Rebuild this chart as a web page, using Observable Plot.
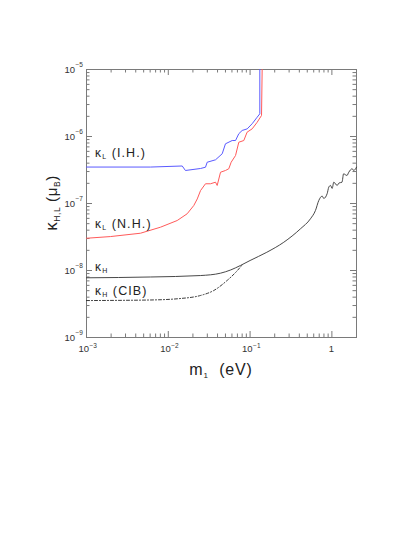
<!DOCTYPE html>
<html><head><meta charset="utf-8">
<script src="https://cdn.jsdelivr.net/npm/d3@7"></script>
<script src="https://cdn.jsdelivr.net/npm/@observablehq/plot@0.6"></script>
<style>html,body{margin:0;padding:0;background:#fff;} svg{display:block}</style>
</head><body><div id="chart"></div>
<script>
// ---- data ----
const ihM = [1e-3, 6.05e-3, 0.0148, 0.0162, 0.0248, 0.0285, 0.0299, 0.0378, 0.0456, 0.0500, 0.0604, 0.0664, 0.0728, 0.080, 0.0922, 0.106, 0.122, 0.1315, 0.1315];
const ihK = [3.5e-7, 3.5e-7, 3.63e-7, 3.11e-7, 3.33e-7, 3.48e-7, 4.13e-7, 4.49e-7, 5.52e-7, 7.78e-7, 8.71e-7, 8.71e-7, 1.10e-6, 1.23e-6, 1.30e-6, 1.55e-6, 1.94e-6, 2.18e-6, 1e-5];

const nhM = [1e-3, 1.96e-3, 4.57e-3, 8.03e-3, 0.01285, 0.0170, 0.0205, 0.0226, 0.0248, 0.0285, 0.0328, 0.0378, 0.0396, 0.0435, 0.0500, 0.0549, 0.0587, 0.0664, 0.0728, 0.0838, 0.0919, 0.106, 0.122, 0.138, 0.1405];
const nhK = [3.03e-8, 3.21e-8, 3.60e-8, 4.43e-8, 5.57e-8, 7.02e-8, 9.33e-8, 1.17e-7, 1.56e-7, 1.97e-7, 1.97e-7, 2.08e-7, 1.86e-7, 2.93e-7, 3.11e-7, 3.30e-7, 4.13e-7, 5.20e-7, 8.22e-7, 8.71e-7, 1.16e-6, 1.30e-6, 1.63e-6, 2.06e-6, 1e-5];

const hM = [1e-3, 6.05e-3, 0.0248, 0.0435, 0.058, 0.0764, 0.1, 0.160, 0.258, 0.413, 0.547, 0.630, 0.692, 0.761, 0.796, 0.875, 0.916, 0.962, 1.008, 1.055, 1.16, 1.22, 1.33, 1.39, 1.53, 1.61, 1.77, 1.85, 2.0];
const hK = [7.78e-9, 8.0e-9, 8.41e-9, 9.12e-9, 1.02e-8, 1.19e-8, 1.41e-8, 1.87e-8, 2.64e-8, 4.19e-8, 5.91e-8, 7.87e-8, 1.11e-7, 1.29e-7, 1.19e-7, 1.40e-7, 1.75e-7, 1.86e-7, 1.68e-7, 2.08e-7, 1.86e-7, 2.02e-7, 2.08e-7, 2.77e-7, 2.62e-7, 2.93e-7, 3.30e-7, 3.11e-7, 3.48e-7];

const cibM = [1e-3, 6.05e-3, 0.0141, 0.0248, 0.036, 0.0524, 0.0664, 0.080];
const cibK = [3.56e-9, 3.63e-9, 3.82e-9, 4.24e-9, 5.03e-9, 7.10e-9, 9.33e-9, 1.21e-8];

const xMajor = [1e-3, 1e-2, 1e-1, 1];
const xTickBase = ["10", "10", "10", "1"];
const xTickExp = ["−3", "−2", "−1", ""];
const xMinor = [2e-3,3e-3,4e-3,5e-3,6e-3,7e-3,8e-3,9e-3, 2e-2,3e-2,4e-2,5e-2,6e-2,7e-2,8e-2,9e-2, 0.2,0.3,0.4,0.5,0.6,0.7,0.8,0.9, 2];
const yMajor = [1e-9, 1e-8, 1e-7, 1e-6, 1e-5];
const yTickExp = ["−9", "−8", "−7", "−6", "−5"];
const yMinor = [2e-9,3e-9,4e-9,5e-9,6e-9,7e-9,8e-9,9e-9, 2e-8,3e-8,4e-8,5e-8,6e-8,7e-8,8e-8,9e-8, 2e-7,3e-7,4e-7,5e-7,6e-7,7e-7,8e-7,9e-7, 2e-6,3e-6,4e-6,5e-6,6e-6,7e-6,8e-6,9e-6];

const curveLabels = [
  {m: 1.29e-3, k: 4.91e-7, sub: "L", rest: "(I.H.)"},
  {m: 1.29e-3, k: 4.24e-8, sub: "L", rest: "(N.H.)"},
  {m: 1.29e-3, k: 9.7e-9, sub: "H", rest: ""},
  {m: 1.29e-3, k: 4.24e-9, sub: "H", rest: "(CIB)"}
];

// ---- layout ----
const W = 415, H = 537, mL = 86, mR = 59, mT = 69, mB = 200;
const fw = W - mL - mR, fh = H - mT - mB;
const majLen = 6, minLen = 3.5;
const axisCol = "#7a7a7a", textCol = "#333";

const pts = (M, K) => M.map((m, i) => ({m, k: K[i]}));

const plot = Plot.plot({
  width: W, height: H,
  marginLeft: mL, marginRight: mR, marginTop: mT, marginBottom: mB,
  x: {type: "log", domain: [1e-3, 2], axis: null},
  y: {type: "log", domain: [1e-9, 1e-5], axis: null},
  style: {fontFamily: "'Liberation Sans', Arial, sans-serif", background: "white"},
  marks: [
    Plot.tickX(xMajor, {x: d => d, insetTop: fh - majLen, stroke: axisCol}),
    Plot.tickX(xMinor, {x: d => d, insetTop: fh - minLen, stroke: axisCol}),
    Plot.tickX(xMajor, {x: d => d, insetBottom: fh - majLen, stroke: axisCol}),
    Plot.tickX(xMinor, {x: d => d, insetBottom: fh - minLen, stroke: axisCol}),
    Plot.tickY(yMajor, {y: d => d, insetRight: fw - majLen, stroke: axisCol}),
    Plot.tickY(yMinor, {y: d => d, insetRight: fw - minLen, stroke: axisCol}),
    Plot.tickY(yMajor, {y: d => d, insetLeft: fw - majLen, stroke: axisCol}),
    Plot.tickY(yMinor, {y: d => d, insetLeft: fw - minLen, stroke: axisCol}),
    Plot.frame({stroke: axisCol, strokeWidth: 1}),
    Plot.line(pts(cibM, cibK), {x: "m", y: "k", stroke: "#222", strokeWidth: 0.9, strokeDasharray: "3,2,1,2", curve: "monotone-x"}),
    Plot.line(pts(hM, hK), {x: "m", y: "k", stroke: "#333", strokeWidth: 0.9, curve: "monotone-x"}),
    Plot.line(pts(nhM, nhK), {x: "m", y: "k", stroke: "#ff5a5a", strokeWidth: 1}),
    Plot.line(pts(ihM, ihK), {x: "m", y: "k", stroke: "#5a5aff", strokeWidth: 1}),
    Plot.text(xMajor, {x: d => d, frameAnchor: "bottom", dy: 14.5, dx: 2.5, textAnchor: "end",
      text: (d, i) => xTickBase[i], fontSize: 9.5, fill: textCol, filter: (d, i) => xTickExp[i] !== ""}),
    Plot.text(xMajor, {x: d => d, frameAnchor: "bottom", dy: 14.5, dx: -0.5, textAnchor: "middle",
      text: (d, i) => xTickBase[i], fontSize: 9.5, fill: textCol, filter: (d, i) => xTickExp[i] === ""}),
    Plot.text(xMajor, {x: d => d, frameAnchor: "bottom", dy: 10.5, dx: 3, textAnchor: "start",
      text: (d, i) => xTickExp[i], fontSize: 6.5, fill: textCol}),
    Plot.text(yMajor, {y: d => d, frameAnchor: "left", dx: -11.5, textAnchor: "end",
      text: () => "10", fontSize: 9.5, fill: textCol}),
    Plot.text(yMajor, {y: d => d, frameAnchor: "left", dx: -11, dy: -5, textAnchor: "start",
      text: (d, i) => yTickExp[i], fontSize: 6.5, fill: textCol})
  ]
});

document.getElementById("chart").appendChild(plot);

// ---- annotations with subscripts ----
const svg = d3.select(plot);
const sx = plot.scale("x"), sy = plot.scale("y");
const font = "'Liberation Sans', Arial, sans-serif";

curveLabels.forEach(l => {
  const t = svg.append("text")
    .attr("x", sx.apply(l.m)).attr("y", sy.apply(l.k))
    .attr("text-anchor", "start")
    .attr("font-family", font).attr("font-size", 12.5).attr("fill", "#222")
    .attr("letter-spacing", 1.1);
  t.append("tspan").attr("font-size", 12).text("κ");
  t.append("tspan").attr("font-size", 7).attr("dy", 2).text(l.sub);
  if (l.rest) t.append("tspan").attr("dy", -2).text("\u00a0" + l.rest);
});

// y axis label
const yl = svg.append("text")
  .attr("transform", `translate(57,${mT + 134}) rotate(-90)`)
  .attr("text-anchor", "middle")
  .attr("font-family", font).attr("font-size", 15).attr("fill", "#222").attr("letter-spacing", 0.6);
yl.append("tspan").attr("font-size", 17).text("κ");
yl.append("tspan").attr("font-size", 8.5).attr("dy", 3).text("H,L");
yl.append("tspan").attr("dy", -3).text("\u00a0(μ");
yl.append("tspan").attr("font-size", 8.5).attr("dy", 3).text("B");
yl.append("tspan").attr("dy", -3).text(")");

// x axis label
const xl = svg.append("text")
  .attr("x", 221).attr("y", 375)
  .attr("text-anchor", "middle")
  .attr("font-family", font).attr("font-size", 16).attr("fill", "#222").attr("letter-spacing", 0.8);
xl.append("tspan").text("m");
xl.append("tspan").attr("font-size", 8).attr("dy", 3).text("1");
xl.append("tspan").attr("dy", -3).text("\u00a0\u00a0(eV)");
</script></body></html>
